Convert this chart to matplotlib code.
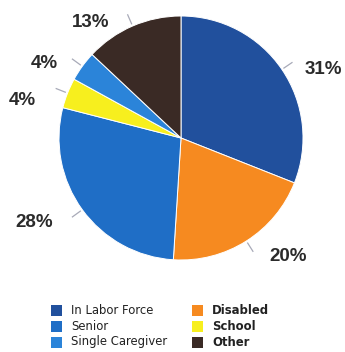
import numpy as np
import matplotlib
matplotlib.use("Agg")
import matplotlib.pyplot as plt
from matplotlib.patches import Rectangle

# Share of population by status (clockwise from 12 o'clock)
categories = ["In Labor Force", "Disabled", "Senior", "School", "Single Caregiver", "Other"]
shares = [31, 20, 28, 4, 4, 13]
colors = ["#21509d", "#f68a20", "#1f6ec6", "#f7ef1e", "#2b84d9", "#3a2a25"]

# Legend layout: left column then right column
legend_left = ["In Labor Force", "Senior", "Single Caregiver"]
legend_right = ["Disabled", "School", "Other"]

W, H = 345, 352
fig = plt.figure(figsize=(W / 100, H / 100), dpi=100)
fig.patch.set_facecolor("white")

# Pie axes: centre (181, 138) px, radius 122 px
cx, cy, R = 181, 138, 122
ax = fig.add_axes([(cx - R) / W, (H - cy - R) / H, 2 * R / W, 2 * R / H])
wedges, _ = ax.pie(shares, colors=colors, startangle=90, counterclock=False,
                   radius=1.0, wedgeprops=dict(edgecolor="white", linewidth=0.7))
ax.set_xlim(-1, 1)
ax.set_ylim(-1, 1)
ax.set_aspect("equal")
ax.axis("off")
ax.set_clip_on(False)

# Percentage labels with short leader ticks
label_xy = [(1.17, 0.56), (0.88, -0.975), (-1.20, -0.69),
            (-1.30, 0.31), (-1.12, 0.61), (-0.74, 0.95)]
for w, v, (tx, ty) in zip(wedges, shares, label_xy):
    mid = np.deg2rad((w.theta1 + w.theta2) / 2)
    x0, y0 = 1.02 * np.cos(mid), 1.02 * np.sin(mid)
    x1, y1 = 1.10 * np.cos(mid), 1.10 * np.sin(mid)
    ax.plot([x0, x1], [y0, y1], color="#a8aab8", lw=0.9, clip_on=False)
    ax.text(tx, ty, f"{v}%", ha="center", va="center", fontsize=13.5,
            fontweight="bold", family="Liberation Sans", color="#2b2b2b",
            clip_on=False)

# Legend drawn as swatches and text in figure pixels
color_of = dict(zip(categories, colors))
rows_y = [310, 326, 342]
sw = 11
for col_x, text_x, names, weight in [(51, 71, legend_left, "normal"),
                                     (192, 212, legend_right, "bold")]:
    for yy, name in zip(rows_y, names):
        fig.patches.append(Rectangle((col_x / W, (H - yy - sw / 2) / H), sw / W, sw / H,
                                     transform=fig.transFigure, facecolor=color_of[name],
                                     edgecolor="none"))
        fig.text(text_x / W, (H - yy) / H, name, ha="left", va="center",
                 fontsize=8.4, fontweight=weight, color="#222222")

fig.savefig("out.png", dpi=100, facecolor="white")
